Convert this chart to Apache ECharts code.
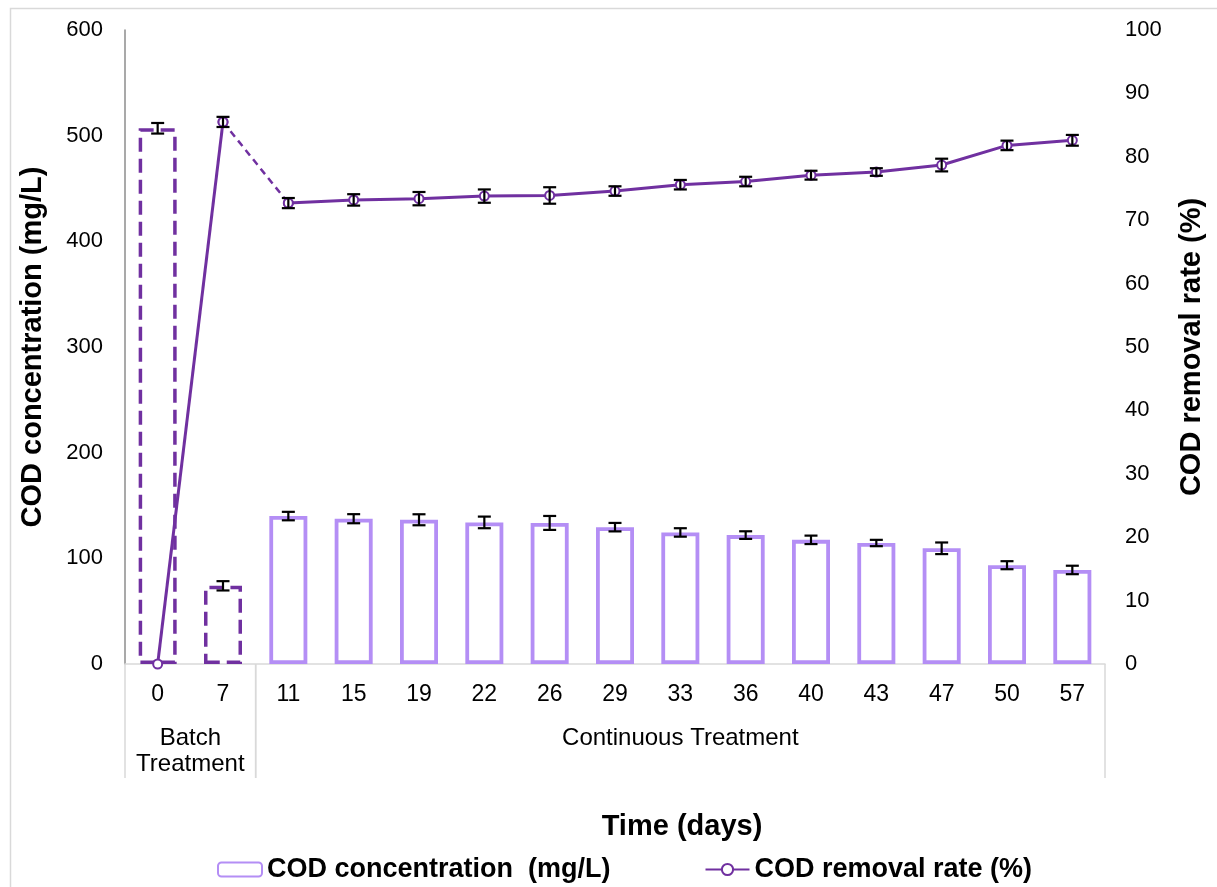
<!DOCTYPE html>
<html><head><meta charset="utf-8">
<script src="https://cdn.jsdelivr.net/npm/echarts@6/dist/echarts.min.js"></script>
<style>html,body{margin:0;padding:0;background:#fff}#c{width:1217px;height:887px}</style>
</head><body><div id="c"></div>
<script>
// ---- data ----
const days = ['0','7','11','15','19','22','26','29','33','36','40','43','47','50','57'];
const codConc = [507, 74, 140, 137.5, 136.5, 134, 133.5, 129.5, 124.5, 122, 117.5, 114.5, 109.5, 93.5, 89];
const codErr = [5, 4.4, 4, 4.3, 5.2, 5.5, 6.6, 4, 4, 3.6, 4, 3, 5.5, 3.8, 4];
const removal = [0, 85.5, 72.7, 73.2, 73.4, 73.8, 73.9, 74.6, 75.6, 76.1, 77.1, 77.6, 78.7, 81.8, 82.6];
const removalErr = [0, 0.8, 0.8, 0.9, 1.05, 1.05, 1.3, 0.75, 0.75, 0.75, 0.7, 0.6, 1.0, 0.75, 0.85];
const leftTicks = {min: 0, max: 600, interval: 100};
const rightTicks = {min: 0, max: 100, interval: 10};
const groups = [
  {label: 'Batch\nTreatment', from: 0, to: 1},
  {label: 'Continuous Treatment', from: 2, to: 14}
];
const batchCount = 2;

// ---- styles ----
const DARK = '#7030A0';
const LIGHT = '#B48EF5';
const FONT = 'Liberation Sans';

const barData = codConc.map((v, i) => i < batchCount
  ? {value: v, itemStyle: {borderColor: DARK, borderType: [14, 7], borderWidth: 3.5}}
  : v);

const seg = (a, b) => removal.map((v, i) => (i >= a && i <= b) ? v : null);

function errRender(params, api) {
  const x = api.value(0), v = api.value(1), e = api.value(2);
  if (!e) return null;
  const t = api.coord([x, v + e]);
  const b = api.coord([x, v - e]);
  const cap = 6.5;
  const st = {stroke: '#000', lineWidth: 2.2};
  return {type: 'group', children: [
    {type: 'line', shape: {x1: t[0], y1: t[1], x2: b[0], y2: b[1]}, style: st},
    {type: 'line', shape: {x1: t[0] - cap, y1: t[1], x2: t[0] + cap, y2: t[1]}, style: st},
    {type: 'line', shape: {x1: b[0] - cap, y1: b[1], x2: b[0] + cap, y2: b[1]}, style: st}
  ]};
}

function groupRender(params, api) {
  const from = api.value(0), to = api.value(1);
  const bw = api.size([1, 0])[0];
  const p0 = api.coord([from, 0]);
  const p1 = api.coord([to, 0]);
  const left = p0[0] - bw / 2, right = p1[0] + bw / 2, base = p0[1];
  const depth = 114;
  const st = {stroke: '#d9d9d9', lineWidth: 1.5};
  return {type: 'group', children: [
    {type: 'line', shape: {x1: left, y1: base, x2: left, y2: base + depth}, style: st},
    {type: 'line', shape: {x1: right, y1: base, x2: right, y2: base + depth}, style: st},
    {type: 'text', style: {text: groups[params.dataIndex].label, x: (left + right) / 2, y: base + 61,
      align: 'center', verticalAlign: 'top', fontSize: 24, fontFamily: FONT, fill: '#000', lineHeight: 26}}
  ]};
}

const chart = echarts.init(document.getElementById('c'), null, {renderer: 'canvas'});
chart.setOption({
  animation: false,
  backgroundColor: '#fff',
  graphic: [{type: 'rect', left: 8, top: 6, shape: {width: 1230, height: 900}, style: {fill: 'none', stroke: '#d9d9d9', lineWidth: 1.5}}],
  grid: {left: 125, right: 112, top: 30, bottom: 223},
  legend: {
    data: ['COD concentration  (mg/L)', 'COD removal rate (%)'],
    left: 212, top: 851, itemGap: 94, itemWidth: 44, itemHeight: 14,
    textStyle: {fontSize: 27, fontWeight: 'bold', fontFamily: FONT, color: '#000'}
  },
  xAxis: {
    type: 'category', data: days,
    name: 'Time (days)', nameLocation: 'middle', nameGap: 148,
    nameTextStyle: {fontSize: 29, fontWeight: 'bold', fontFamily: FONT, color: '#000', padding: [0, 0, 0, 134]},
    axisLine: {lineStyle: {color: '#d9d9d9', width: 1.5}},
    axisTick: {show: false},
    axisLabel: {fontSize: 23, fontFamily: FONT, color: '#000', margin: 19}
  },
  yAxis: [{
    type: 'value', min: leftTicks.min, max: leftTicks.max, interval: leftTicks.interval,
    name: 'COD concentration (mg/L)', nameLocation: 'middle', nameGap: 78,
    nameTextStyle: {fontSize: 29, fontWeight: 'bold', fontFamily: FONT, color: '#000'},
    axisLine: {show: true, lineStyle: {color: '#8c8c8c', width: 1.5}},
    axisTick: {show: false}, splitLine: {show: false},
    axisLabel: {fontSize: 22, fontFamily: FONT, color: '#000', margin: 22}
  }, {
    type: 'value', min: rightTicks.min, max: rightTicks.max, interval: rightTicks.interval,
    name: 'COD removal rate (%)', nameLocation: 'middle', nameGap: 72,
    nameTextStyle: {fontSize: 29, fontWeight: 'bold', fontFamily: FONT, color: '#000'},
    axisLine: {show: false}, axisTick: {show: false}, splitLine: {show: false},
    axisLabel: {fontSize: 22, fontFamily: FONT, color: '#000', margin: 20}
  }],
  series: [
    {
      name: 'COD concentration  (mg/L)', type: 'bar', data: barData, barWidth: 38,
      itemStyle: {color: '#fff', borderColor: LIGHT, borderWidth: 3.8}, z: 2
    },
    {
      name: 'codErr', type: 'custom', renderItem: errRender, clip: false, z: 5,
      data: codConc.map((v, i) => [i, v, codErr[i]])
    },
    {
      name: 'COD removal rate (%)', type: 'line', yAxisIndex: 1, data: seg(0, 1),
      symbol: 'emptyCircle', symbolSize: 9, lineStyle: {color: DARK, width: 3},
      itemStyle: {color: DARK, borderWidth: 1.5}, z: 4
    },
    {
      name: 'removalTransition', type: 'line', yAxisIndex: 1, data: seg(1, 2),
      symbol: 'emptyCircle', symbolSize: 9, lineStyle: {color: DARK, width: 2.5, type: [7, 5]},
      itemStyle: {color: DARK, borderWidth: 1.5}, z: 4
    },
    {
      name: 'removalContinuous', type: 'line', yAxisIndex: 1, data: seg(2, 14),
      symbol: 'emptyCircle', symbolSize: 9, lineStyle: {color: DARK, width: 3},
      itemStyle: {color: DARK, borderWidth: 1.5}, z: 4
    },
    {
      name: 'removalErr', type: 'custom', yAxisIndex: 1, renderItem: errRender, clip: false, z: 6,
      data: removal.map((v, i) => [i, v, removalErr[i]])
    },
    {
      name: 'groups', type: 'custom', renderItem: groupRender, clip: false, silent: true,
      data: groups.map(g => [g.from, g.to])
    }
  ]
});
</script>
</body></html>
